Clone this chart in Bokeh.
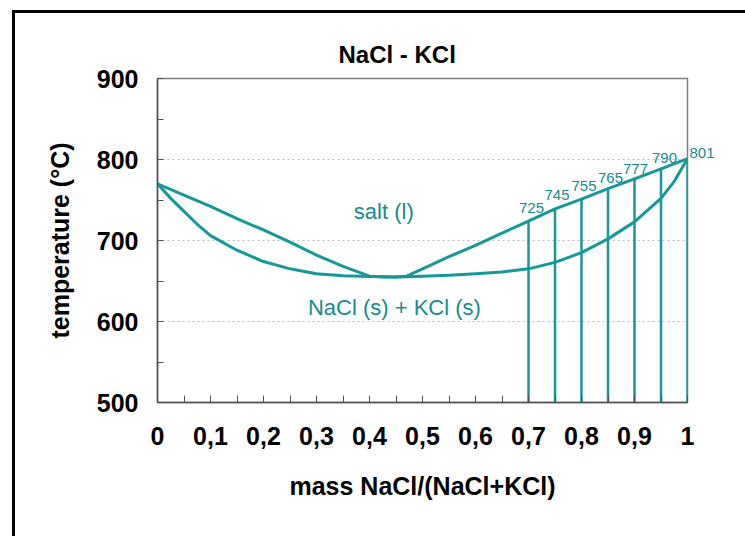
from bokeh.plotting import figure
from bokeh.models import FixedTicker, Range1d, ColumnDataSource, LinearAxis
from bokeh.core.properties import value
from bokeh.embed import file_html
from bokeh.resources import INLINE

# ---- data ----
liq_x = [0, 0.05, 0.1, 0.15, 0.2, 0.25, 0.3, 0.35, 0.4, 0.43, 0.45, 0.47, 0.5, 0.55, 0.6, 0.65,
         0.7, 0.75, 0.8, 0.85, 0.9, 0.95, 1.0]
liq_t = [770, 756, 742, 727, 713, 698, 682, 668, 656, 655, 655, 656, 665, 680, 694, 709,
         724, 739, 751, 764, 776, 788.5, 801]

sol_x = [0, 0.025, 0.05, 0.075, 0.1, 0.15, 0.2, 0.25, 0.3, 0.35, 0.4, 0.45, 0.5, 0.55, 0.6, 0.65,
         0.7, 0.75, 0.8, 0.85, 0.9, 0.95, 0.975, 1.0]
sol_t = [770, 752, 736, 720, 706, 688, 674, 665, 659, 656.5, 655.5, 655, 656, 657, 659, 661,
         665, 673, 685, 702, 723, 752, 773, 801]

mark_x = [0.7, 0.75, 0.8, 0.85, 0.9, 0.95, 1.0]
mark_top = [724, 739, 751, 764, 776, 788.5, 801]
mark_labels = ["725", "745", "755", "765", "777", "790", "801"]

region_x = [0.427, 0.447]
region_t = [736, 617]
region_labels = ["salt (l)", "NaCl (s) + KCl (s)"]

x_tick_values = [0, 0.1, 0.2, 0.3, 0.4, 0.5, 0.6, 0.7, 0.8, 0.9, 1.0]
x_tick_labels = ["0", "0,1", "0,2", "0,3", "0,4", "0,5", "0,6", "0,7", "0,8", "0,9", "1"]
x_minor = [0.05, 0.15, 0.25, 0.35, 0.45, 0.55, 0.65, 0.75, 0.85, 0.95]
y_tick_values = [500, 600, 700, 800, 900]
y_minor = [550, 650, 750, 850]
y_grid = [600, 700, 800]

TEAL = "#16989a"
TEXT_TEAL = "#138d8c"
FONT = "Liberation Sans"

Y0, Y1 = 500, 900
p = figure(width=745, height=536, output_backend="svg", toolbar_location=None,
           x_range=Range1d(0, 1), y_range=Range1d(Y0, Y1),
           min_border_left=157, min_border_right=58, min_border_top=78, min_border_bottom=134,
           title="NaCl - KCl")
p.background_fill_color = "white"
p.border_fill_alpha = 0
p.outline_line_color = "#808080"
p.outline_line_width = 1.5
# outer black frame: only its left and top edges fall inside the picture
p.styles = {"box-shadow": "inset 12px 10px 0 0 white, inset 15px 13px 0 0 black",
            "background-color": "white"}

p.title.text_font = FONT
p.title.text_font_size = "24px"
p.title.text_font_style = "bold"
p.title.text_color = "black"
p.title.align = "left"
p.title.offset = 181
p.title.standoff = 22

# axes
xa = p.xaxis[0]
xa.ticker = FixedTicker(ticks=x_tick_values, minor_ticks=x_minor)
xa.major_label_overrides = {v: l for v, l in zip(x_tick_values, x_tick_labels)}
xa.axis_label = "mass NaCl/(NaCl+KCl)"
ya = p.yaxis[0]
ya.ticker = FixedTicker(ticks=y_tick_values, minor_ticks=y_minor)
ya.axis_label = "temperature (°C)"

for ax in (xa, ya):
    ax.axis_line_color = "#505050"
    ax.axis_line_width = 1.5
    ax.major_tick_line_color = "#505050"
    ax.minor_tick_line_color = "#505050"
    ax.major_tick_out = 0
    ax.minor_tick_out = 0
    ax.major_label_text_font = FONT
    ax.major_label_text_font_size = "25px"
    ax.major_label_text_font_style = "bold"
    ax.major_label_text_color = "black"
    ax.axis_label_text_font = FONT
    ax.axis_label_text_font_size = "25px"
    ax.axis_label_text_font_style = "bold"
    ax.axis_label_text_color = "black"

xa.major_tick_in = 7
xa.minor_tick_in = 7
xa.major_label_standoff = 24
xa.axis_label_standoff = 24
ya.major_tick_in = 6
ya.minor_tick_in = 6
ya.major_label_standoff = 19
ya.axis_label_standoff = 20

p.xgrid.visible = False
p.ygrid.ticker = FixedTicker(ticks=y_grid)
p.ygrid.grid_line_color = "#bdbdbd"
p.ygrid.grid_line_dash = "2 3"
p.ygrid.grid_line_width = 1

# curves
p.line(liq_x, liq_t, line_color=TEAL, line_width=3)
p.line(sol_x, sol_t, line_color=TEAL, line_width=3)
p.segment(x0=mark_x, y0=[Y0] * len(mark_x), x1=mark_x, y1=mark_top, line_color=TEAL, line_width=2.5)

dxs = [3, 2, 2.5, 2.5, 1, 3.5]
dys = [-8, -8.5, -8, -5.5, -5, -6]
src = ColumnDataSource(dict(x=mark_x[:-1], y=mark_top[:-1], t=mark_labels[:-1], dx=dxs, dy=dys))
p.text(x="x", y="y", text="t", x_offset="dx", y_offset="dy", source=src,
       text_font=value(FONT), text_font_size="15px", text_color=TEXT_TEAL,
       text_align="center", text_baseline="bottom")

# the last value label sits just outside the plot frame (right of x = 1):
# drawn as a tick label of a bare right-hand axis whose range is lifted by ~6 px
lift = 7.4  # temperature units (about 6 px)
p.extra_y_ranges = {"lab": Range1d(Y0 - lift, Y1 - lift)}
ra = LinearAxis(y_range_name="lab", ticker=FixedTicker(ticks=[mark_top[-1]]),
                major_label_overrides={mark_top[-1]: mark_labels[-1]})
ra.axis_line_color = None
ra.major_tick_line_color = None
ra.minor_tick_line_color = None
ra.major_tick_in = 0
ra.major_tick_out = 0
ra.major_label_standoff = 2
ra.major_label_text_font = FONT
ra.major_label_text_font_size = "15px"
ra.major_label_text_color = TEXT_TEAL
p.add_layout(ra, "right")

p.text(x=region_x, y=region_t, text=region_labels, text_font=value(FONT), text_font_size="22px",
       text_color=TEXT_TEAL, text_align="center", text_baseline="middle")

open("out.html", "w").write(file_html(p, INLINE))
